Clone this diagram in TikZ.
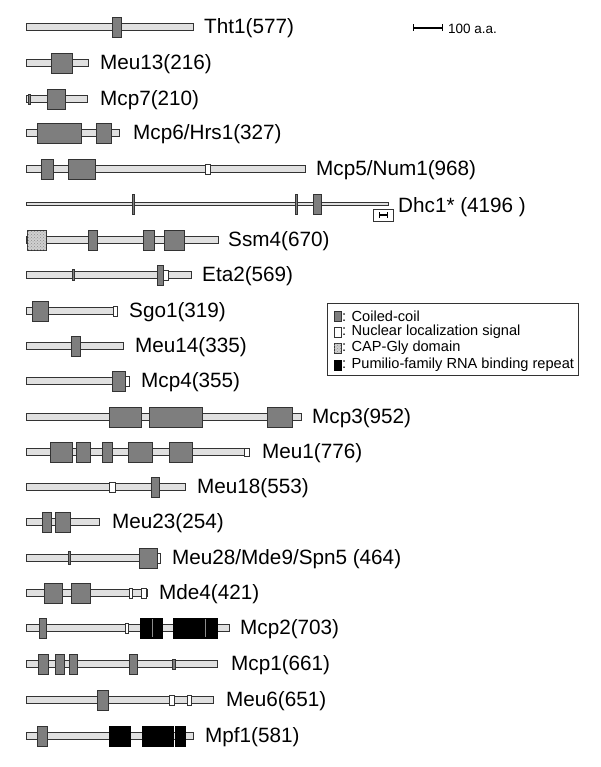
\documentclass[tikz,border=0pt]{standalone}
\usepackage{fontspec}
\setmainfont{Liberation Sans}
\usetikzlibrary{patterns}
\definecolor{barfill}{HTML}{E0E0E0}
\definecolor{edgec}{HTML}{333333}
\definecolor{ccfill}{HTML}{7E7E7E}
\definecolor{capfill}{HTML}{D0D0D0}
\tikzset{
  barsty/.style={draw=edgec,fill=barfill,line width=0.95pt},
  ccsty/.style={draw=edgec,fill=ccfill,line width=0.9pt},
  nlssty/.style={draw=edgec,fill=white,line width=0.9pt},
  capsty/.style={draw=edgec,fill=capfill,line width=0.9pt},
  capdots/.style={pattern=crosshatch dots,pattern color=black!45},
  pumsty/.style={draw=black,fill=black,line width=0.9pt},
  ticksty/.style={draw=edgec,fill=ccfill,line width=0.7pt},
  lab/.style={anchor=west,inner sep=0pt,font=\fontsize{20.7}{24}\selectfont},
  leglab/.style={anchor=west,inner sep=0pt,font=\fontsize{14.6}{16}\selectfont},
}
\newcommand{\mkbar}[3]{\draw[barsty] (#1,#3-3.2) rectangle (#2,#3+3.2);}
\newcommand{\mkcc}[3]{\draw[ccsty] (#1,#3-10) rectangle (#2,#3+10);}
\newcommand{\mknls}[3]{\draw[nlssty] (#1,#3-5) rectangle (#2,#3+5);}
\newcommand{\mkpum}[3]{\draw[pumsty] (#1,#3-10) rectangle (#2,#3+10);}
\newcommand{\mkcap}[3]{\draw[capsty] (#1,#3-10) rectangle (#2,#3+10);\path[capdots] (#1,#3-10) rectangle (#2,#3+10);}
\newcommand{\mktick}[3]{\draw[ticksty] (#1-1,#2-#3) rectangle (#1+1,#2+#3);}
\begin{document}
\begin{tikzpicture}[x=1pt,y=-1pt]
\useasboundingbox (0,0) rectangle (600,767);
% Tht1
\mkbar{26}{193}{27} \mkcc{112}{121}{27}
\node[lab] (tht1) at (204,28) {Tht1(577)};
% Meu13
\mkbar{26}{88}{63} \mkcc{51}{72}{63}
\node[lab] (meu13) at (100,64) {Meu13(216)};
% Mcp7
\mkbar{26}{87}{99} \mktick{29}{99}{5} \mkcc{47}{65}{99}
\node[lab] (mcp7) at (100,100) {Mcp7(210)};
% Mcp6/Hrs1
\mkbar{26}{119}{133} \mkcc{37}{81}{133} \mkcc{96}{111}{133}
\node[lab] (mcp6) at (133,134) {Mcp6/Hrs1(327)};
% Mcp5/Num1
\mkbar{26}{305}{169} \mkcc{41}{53}{169} \mkcc{68}{95}{169} \mknls{205}{210}{169}
\node[lab] (mcp5) at (316,170) {Mcp5/Num1(968)};
% Dhc1
\draw[barsty,line width=0.8pt] (26,202.5) rectangle (388,205.5);
\mktick{133}{204}{10} \mktick{296}{204}{10}
\mkcc{313}{321}{204}
\draw[nlssty] (373,209) rectangle (393,221);
\draw[line width=1.2pt] (379,215) -- (387,215);
\draw[line width=0.9pt] (379,212.5) -- (379,217.5) (387,212.5) -- (387,217.5);
\node[lab] (dhc1) at (398,207) {Dhc1* (4196 )};
% Ssm4
\mkbar{26}{218}{240} \mkcap{27}{46}{240} \mkcc{88}{97}{240} \mkcc{143}{154}{240} \mkcc{164}{184}{240}
\node[lab] (ssm4) at (228,241) {Ssm4(670)};
% Eta2
\mkbar{26}{191}{275} \mktick{73}{275}{5.5} \mknls{163}{168}{275} \mkcc{157}{163}{275}
\node[lab] (eta2) at (202,276) {Eta2(569)};
% Sgo1
\mkbar{26}{117}{311} \mkcc{32}{48}{311} \mknls{113}{117}{311}
\node[lab] (sgo1) at (129,312) {Sgo1(319)};
% Meu14
\mkbar{26}{123}{346} \mkcc{71}{80}{346}
\node[lab] (meu14) at (135,347) {Meu14(335)};
% Mcp4
\mkbar{26}{113}{381} \mknls{125}{129}{381} \mkcc{112}{125}{381}
\node[lab] (mcp4) at (141,382) {Mcp4(355)};
% Mcp3
\mkbar{26}{301}{417} \mkcc{109}{141}{417} \mkcc{149}{202}{417} \mkcc{267}{292}{417}
\node[lab] (mcp3) at (312,418) {Mcp3(952)};
% Meu1
\mkbar{26}{244}{452} \mkcc{50}{72}{452} \mkcc{76}{90}{452} \mkcc{102}{112}{452} \mkcc{128}{152}{452} \mkcc{169}{192}{452}
\draw[nlssty] (244,448) rectangle (249,456);
\node[lab] (meu1) at (262,453) {Meu1(776)};
% Meu18
\mkbar{26}{185}{487} \mknls{109}{115}{487} \mkcc{151}{159}{487}
\node[lab] (meu18) at (197,488) {Meu18(553)};
% Meu23
\mkbar{26}{99}{522} \mkcc{42}{51}{522} \mkcc{55}{70}{522}
\node[lab] (meu23) at (112,523) {Meu23(254)};
% Meu28/Mde9/Spn5
\mkbar{26}{157}{558} \mktick{69}{558}{6.5} \mknls{157}{160}{558} \mkcc{139}{157}{558}
\node[lab] (meu28) at (172,559) {Meu28/Mde9/Spn5 (464)};
% Mde4
\mkbar{26}{147}{593} \mkcc{44}{62}{593} \mkcc{71}{90}{593} \mknls{129}{132}{593} \mknls{141}{146}{593}
\node[lab] (mde4) at (159,594) {Mde4(421)};
% Mcp2
\mkbar{26}{229}{628} \mkcc{39}{46}{628} \mknls{125}{128}{628}
\mkpum{140}{152}{628} \mkpum{152}{162}{628} \mkpum{173}{205}{628} \mkpum{206}{217}{628}
\draw[black!45,line width=0.5pt] (152,619) -- (152,637) (205.5,619) -- (205.5,637);
\node[lab] (mcp2) at (240,629) {Mcp2(703)};
% Mcp1
\mkbar{26}{217}{664} \mkcc{38}{48}{664} \mkcc{55}{64}{664} \mkcc{69}{77}{664} \mkcc{129}{137}{664}
\draw[ccsty] (172,659) rectangle (175,669);
\node[lab] (mcp1) at (231,665) {Mcp1(661)};
% Meu6
\mkbar{26}{213}{700} \mkcc{97}{108}{700} \mknls{169}{174}{700} \mknls{187}{191}{700}
\node[lab] (meu6) at (226,701) {Meu6(651)};
% Mpf1
\mkbar{26}{193}{736} \mkcc{37}{47}{736} \mkpum{109}{130}{736} \mkpum{142}{173}{736} \mkpum{175}{185}{736}
\node[lab] (mpf1) at (205,737) {Mpf1(581)};
% scale bar
\draw[line width=1.8pt] (413,28) -- (442,28);
\draw[line width=1pt] (413,24.5) -- (413,31.5) (442,24.5) -- (442,31.5);
\node[anchor=west,inner sep=0pt,font=\fontsize{13.5}{15}\selectfont] (scale) at (448,29) {100 a.a.};
% legend
\draw[edgec,line width=1pt] (327,303) rectangle (578,375);
\draw[ccsty,line width=0.7pt] (334,311) rectangle (341.5,321);
\draw[nlssty,line width=0.7pt] (334,327) rectangle (341.5,337);
\draw[capsty,line width=0.7pt] (334,343) rectangle (341.5,353);
\path[capdots] (334,343) rectangle (341.5,353);
\draw[pumsty,line width=0.7pt] (334,360) rectangle (341.5,370);
\node[leglab] (l1) at (342,316) {: Coiled-coil};
\node[leglab] (l2) at (342,332) {: Nuclear localization signal};
\node[leglab] (l3) at (342,348) {: CAP-Gly domain};
\node[leglab] (l4) at (342,365) {: Pumilio-family RNA binding repeat};
\end{tikzpicture}
\end{document}
